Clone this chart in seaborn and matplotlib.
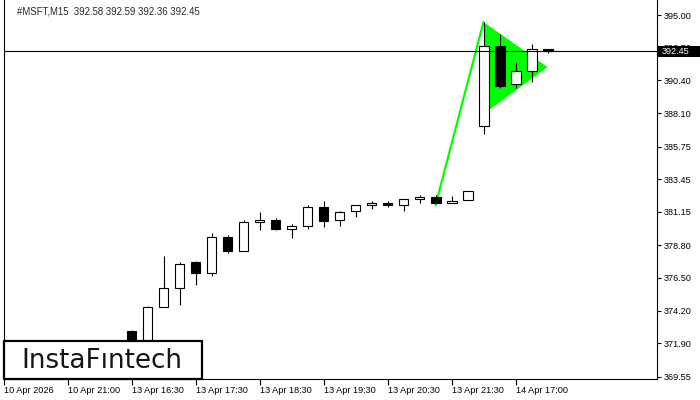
import numpy as np
import pandas as pd
import seaborn as sns
import matplotlib.pyplot as plt
from matplotlib.patches import Rectangle, Polygon
from matplotlib.transforms import blended_transform_factory

# M15 candles, bar index 0 = "13 Apr 16:30"
opens = [372.74, 371.60, 374.49, 375.79, 377.59, 376.84, 379.37, 378.43, 380.43,
         380.59, 379.93, 380.17, 381.48, 380.59, 381.20, 381.62, 381.76, 381.62,
         382.04, 382.18, 381.80, 381.99, 387.18, 392.80, 390.13, 391.04, 392.58]
highs = [372.81, 374.54, 378.06, 377.59, 377.66, 379.65, 379.53, 380.59, 381.13,
         380.71, 380.31, 381.64, 381.92, 381.22, 381.62, 381.90, 381.94, 382.04,
         382.37, 382.32, 382.27, 382.61, 394.49, 393.64, 391.67, 392.94, 392.59]
lows = [371.45, 371.50, 374.45, 374.61, 376.02, 376.65, 378.25, 378.43, 379.84,
        379.84, 379.34, 379.98, 380.07, 380.19, 380.82, 381.34, 381.48, 381.24,
        381.80, 381.71, 381.80, 381.99, 386.61, 389.89, 389.85, 390.27, 392.36]
closes = [371.60, 374.45, 375.76, 377.49, 376.84, 379.37, 378.43, 380.43, 380.59,
          379.93, 380.17, 381.48, 380.54, 381.13, 381.62, 381.76, 381.62, 382.04,
          382.18, 381.80, 381.94, 382.61, 392.80, 390.03, 391.04, 392.59, 392.45]

time_ticks = [-8, -4, 0, 4, 8, 12, 16, 20, 24]
time_labels = ["10 Apr 2026", "10 Apr 21:00", "13 Apr 16:30", "13 Apr 17:30",
               "13 Apr 18:30", "13 Apr 19:30", "13 Apr 20:30", "13 Apr 21:30",
               "14 Apr 17:00"]
price_ticks = [395.00, 392.70, 390.40, 388.10, 385.75, 383.45, 381.15, 378.80,
               376.50, 374.20, 371.90, 369.55]

# bullish pennant
pole_x = [19, 22]
pole_y = [381.63, 394.51]
flag_x = [22, 26, 22.35]
flag_y = [394.51, 391.34, 388.32]

last_price = 392.45
title = "#MSFT,M15  392.58 392.59 392.36 392.45"

sns.set_style("white")
plt.rcParams['font.family'] = ['Liberation Sans', 'DejaVu Sans']

df = pd.DataFrame({"open": opens, "high": highs, "low": lows, "close": closes})
df["idx"] = np.arange(len(df))
df["bottom"] = df[["open", "close"]].min(axis=1)
df["size"] = (df["close"] - df["open"]).abs()
df["face"] = np.where(df["close"] >= df["open"], "white", "black")

fig = plt.figure(figsize=(7, 4), dpi=100)
ax = fig.add_axes([3.5 / 700, 21 / 400, 653.5 / 700, 379 / 400])

lime = "#00ff00"
ax.add_patch(Polygon(list(zip(flag_x, flag_y)), closed=True, fc=lime, ec="none", zorder=1))
sns.lineplot(x=pole_x, y=pole_y, color=lime, linewidth=1.6, ax=ax, zorder=1)

ax.vlines(df["idx"], df["low"], df["high"], color="black", linewidth=0.8, zorder=2)
ax.bar(df["idx"], df["size"], bottom=df["bottom"], width=0.62, color=df["face"],
       edgecolor="black", linewidth=0.8, zorder=3)

ax.axhline(last_price, color="black", linewidth=0.8, zorder=4)

ax.set_xlim(-8.0, 32.84)
ax.set_ylim(369.39, 396.06)

ax.yaxis.tick_right()
ax.set_yticks(price_ticks)
ax.set_yticklabels([f"{p:.2f}" for p in price_ticks])
ax.set_xticks(time_ticks)
ax.set_xticklabels(time_labels, ha="left")
ax.tick_params(axis="y", direction="out", length=3, width=0.8, pad=1.5,
               labelsize=6.6, colors="black", right=True, left=False)
ax.tick_params(axis="x", direction="out", length=4, width=0.8, pad=1,
               labelsize=6.6, colors="black", bottom=True)
for side in ["left", "right", "bottom"]:
    ax.spines[side].set_color("black")
    ax.spines[side].set_linewidth(0.8)
ax.spines["top"].set_visible(False)
ax.set_xlabel("")
ax.set_ylabel("")

# bid label on the price scale, drawn over the 392.70 level as in the terminal
tr = blended_transform_factory(ax.transAxes, ax.transData)
ax.add_patch(Rectangle((1.0, last_price - 0.39), 0.066, 0.78, transform=tr,
                       fc="black", ec="none", clip_on=False, zorder=10))
ax.text(1.0 + 5 / 653.5, last_price, f"{last_price:.2f}", transform=tr, color="white",
        fontsize=6.6, ha="left", va="center", clip_on=False, zorder=11)

fig.text(17 / 700, 1 - 12 / 400, title, fontsize=6.9, ha="left", va="center")

# logo
fig.add_artist(Rectangle((3.5 / 700, 21.5 / 400), 198 / 700, 37.5 / 400,
                         transform=fig.transFigure, fc="white", ec="black",
                         lw=1.6, zorder=20))
fig.text(101.7 / 700, (400 - 368.3) / 400, "InstaFıntech", fontsize=18.8,
         family=["DejaVu Sans"], color="#141414", ha="center", va="baseline",
         zorder=21)

fig.savefig("out.png", dpi=100)
